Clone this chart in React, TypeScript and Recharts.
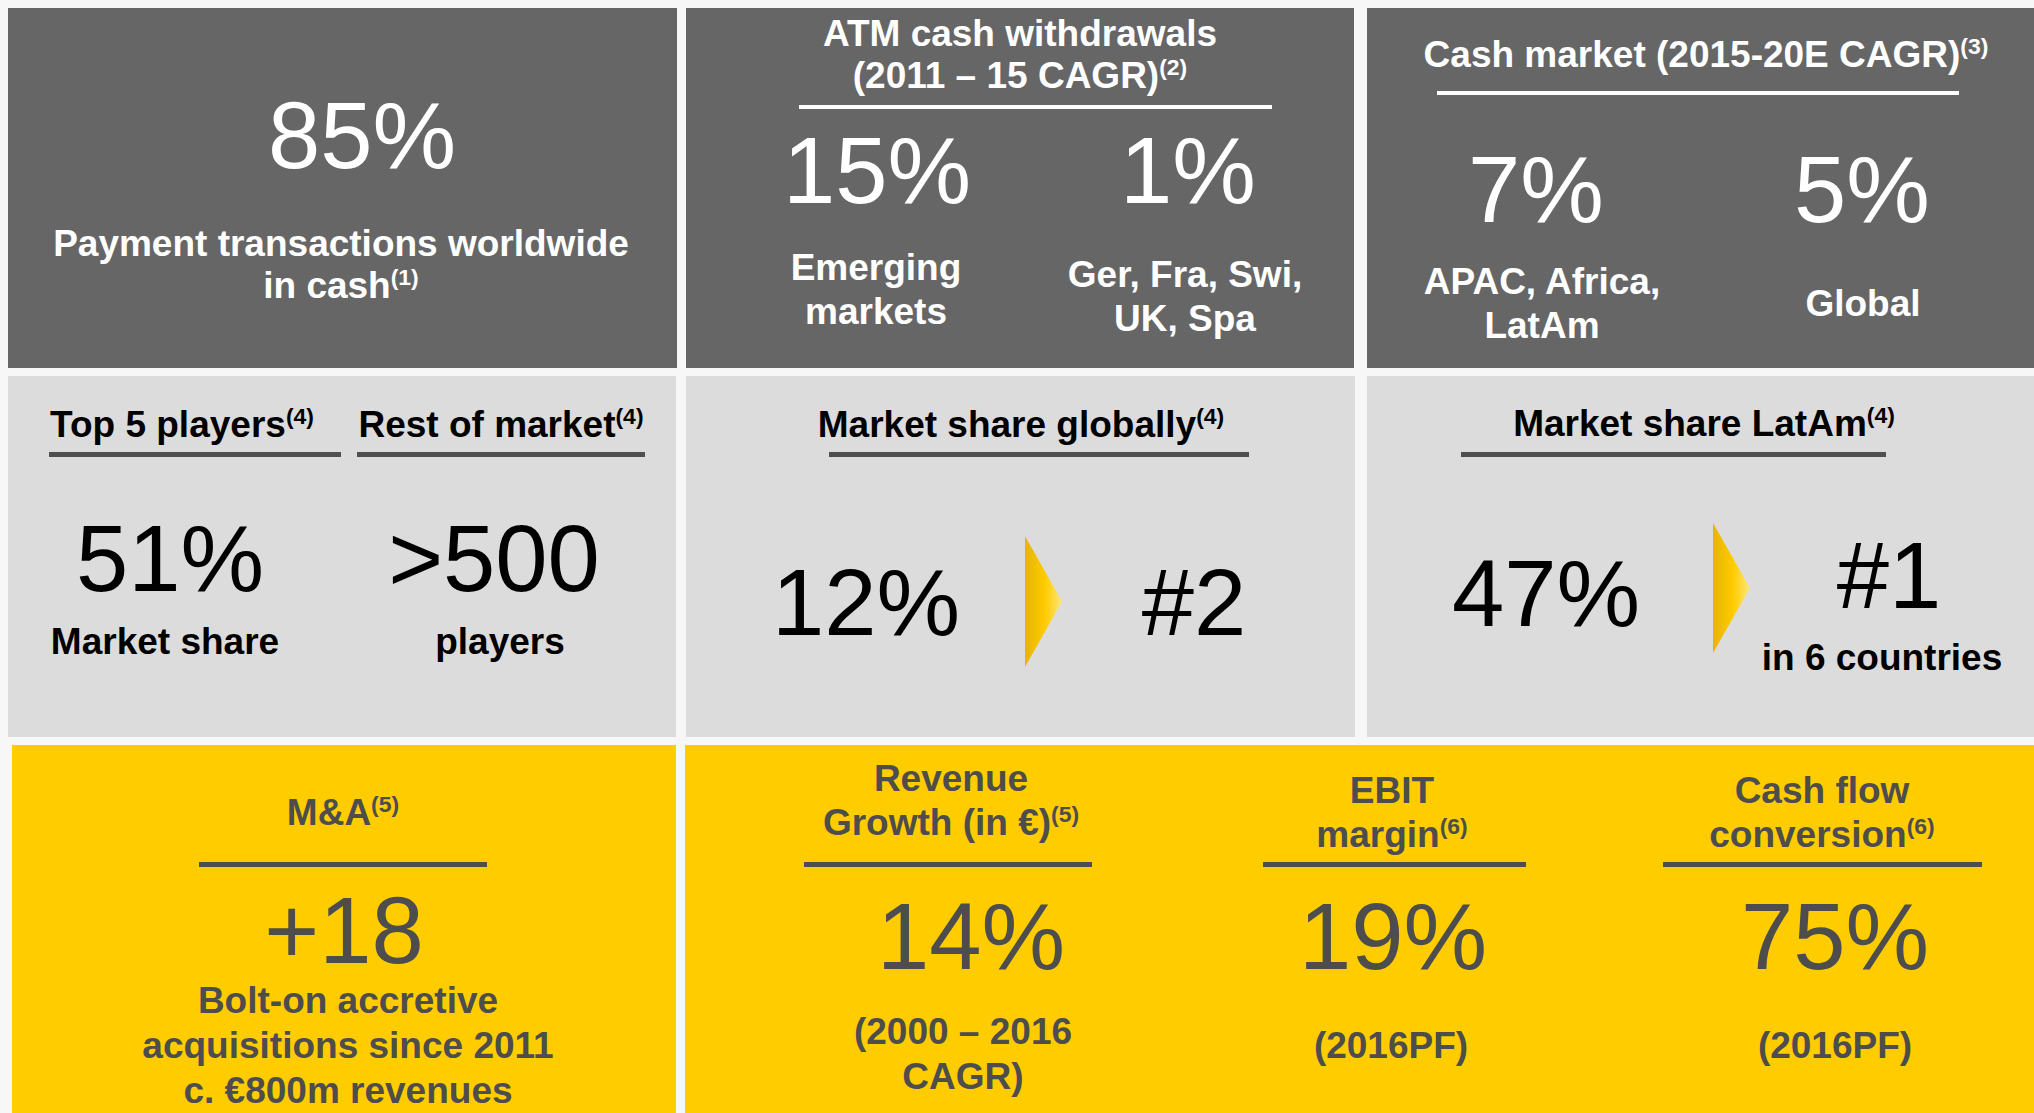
import React from "react";
import { Surface, Layer, Rectangle, Polygon } from "recharts";

type Line = { text: string; note?: string };

// Row 1: the cash market
const cashShareFigure = "85%";
const cashShareCaption: Line[] = [{ text: "Payment transactions worldwide" }, { text: "in cash", note: "(1)" }];
const atmTitle: Line[] = [{ text: "ATM cash withdrawals" }, { text: "(2011 – 15 CAGR)", note: "(2)" }];
const atmFigures = ["15%", "1%"];
const atmCaptions = [
  ["Emerging", "markets"],
  ["Ger, Fra, Swi,", "UK, Spa"],
];
const cashMarketTitle: Line = { text: "Cash market (2015-20E CAGR)", note: "(3)" };
const cashMarketFigures = ["7%", "5%"];
const cashMarketCaptions = [["APAC, Africa,", "LatAm"], ["Global"]];

// Row 2: market position
const playerTitles: Line[] = [
  { text: "Top 5 players", note: "(4)" },
  { text: "Rest of market", note: "(4)" },
];
const playerFigures = ["51%", ">500"];
const playerCaptions = ["Market share", "players"];
const globalTitle: Line = { text: "Market share globally", note: "(4)" };
const globalFigures = ["12%", "#2"];
const latamTitle: Line = { text: "Market share LatAm", note: "(4)" };
const latamFigures = ["47%", "#1"];
const latamCaption = "in 6 countries";

// Row 3: growth and profitability
const maTitle: Line = { text: "M&A", note: "(5)" };
const maFigure = "+18";
const maCaption = ["Bolt-on accretive", "acquisitions since 2011", "c. €800m revenues"];
const kpiTitles: Line[][] = [
  [{ text: "Revenue" }, { text: "Growth (in €)", note: "(5)" }],
  [{ text: "EBIT" }, { text: "margin", note: "(6)" }],
  [{ text: "Cash flow" }, { text: "conversion", note: "(6)" }],
];
const kpiFigures = ["14%", "19%", "75%"];
const kpiPeriods = [["(2000 – 2016", "CAGR)"], ["(2016PF)"], ["(2016PF)"]];

const W = 2034;
const H = 1113;
const FONT = "'Liberation Sans', Arial, Helvetica, sans-serif";
const DARK = "#666666";
const LIGHT = "#dcdcdc";
const YELLOW = "#ffcc00";
const INK = "#4d4d4d";
const BIG = 94;
const LABEL = 37;

function TextLine({
  x,
  y,
  line,
  size = LABEL,
  color,
  bold = true,
}: {
  x: number;
  y: number;
  line: Line | string;
  size?: number;
  color: string;
  bold?: boolean;
}) {
  const l = typeof line === "string" ? { text: line } : line;
  return (
    <text
      x={x}
      y={y}
      textAnchor="middle"
      fontFamily={FONT}
      fontSize={size}
      fontWeight={bold ? 700 : 400}
      fill={color}
    >
      {l.text}
      {l.note && (
        <tspan fontSize={size * 0.62} dy={-size * 0.34}>
          {l.note}
        </tspan>
      )}
    </text>
  );
}

function Figure({ x, y, value, color }: { x: number; y: number; value: string; color: string }) {
  return <TextLine x={x} y={y} line={value} size={BIG} color={color} bold={false} />;
}

function Chevron({ x, top, bottom, width }: { x: number; top: number; bottom: number; width: number }) {
  const mid = (top + bottom) / 2;
  return (
    <Polygon
      points={[
        { x, y: top },
        { x: x + width, y: mid },
        { x, y: bottom },
      ]}
      fill="url(#chevronGold)"
      stroke="none"
    />
  );
}

export default function App() {
  return (
    <div style={{ position: "absolute", left: 0, top: 0, width: W, height: H, background: "#f7f7f7" }}>
      <Surface width={W} height={H}>
        <defs>
          <linearGradient id="chevronGold" x1="0" y1="0" x2="1" y2="0">
            <stop offset="0%" stopColor="#e8b400" />
            <stop offset="55%" stopColor="#ffcc00" />
            <stop offset="100%" stopColor="#ffe680" />
          </linearGradient>
        </defs>
        <Rectangle x={0} y={0} width={W} height={H} fill="#f7f7f7" />

        {/* tiles */}
        <Layer>
          <Rectangle x={8} y={8} width={669} height={360} fill={DARK} />
          <Rectangle x={686} y={8} width={668} height={360} fill={DARK} />
          <Rectangle x={1367} y={8} width={667} height={360} fill={DARK} />
          <Rectangle x={8} y={376} width={668} height={361} fill={LIGHT} />
          <Rectangle x={686} y={376} width={669} height={361} fill={LIGHT} />
          <Rectangle x={1367} y={376} width={667} height={361} fill={LIGHT} />
          <Rectangle x={12} y={745} width={664} height={368} fill={YELLOW} />
          <Rectangle x={685} y={745} width={1349} height={368} fill={YELLOW} />
        </Layer>

        {/* row 1 */}
        <Layer>
          <Figure x={362} y={168} value={cashShareFigure} color="#fff" />
          <TextLine x={341} y={256} line={cashShareCaption[0]} color="#fff" />
          <TextLine x={341} y={298} line={cashShareCaption[1]} color="#fff" />

          <TextLine x={1020} y={46} line={atmTitle[0]} color="#fff" />
          <TextLine x={1020} y={88} line={atmTitle[1]} color="#fff" />
          <Rectangle x={799} y={105} width={473} height={4} fill="#fff" />
          {atmFigures.map((v, i) => (
            <Figure key={v} x={[877, 1188][i]} y={203} value={v} color="#fff" />
          ))}
          {atmCaptions.map((lines, i) =>
            lines.map((t, j) => (
              <TextLine key={t} x={[876, 1185][i]} y={[280, 287][i] + j * 44} line={t} color="#fff" />
            )),
          )}

          <TextLine x={1706} y={67} line={cashMarketTitle} color="#fff" />
          <Rectangle x={1437} y={91} width={522} height={4} fill="#fff" />
          {cashMarketFigures.map((v, i) => (
            <Figure key={v} x={[1536, 1862][i]} y={222} value={v} color="#fff" />
          ))}
          {cashMarketCaptions.map((lines, i) =>
            lines.map((t, j) => (
              <TextLine key={t} x={[1542, 1863][i]} y={[294, 316][i] + j * 44} line={t} color="#fff" />
            )),
          )}
        </Layer>

        {/* row 2 */}
        <Layer>
          {playerTitles.map((t, i) => (
            <TextLine key={t.text} x={[182, 501][i]} y={437} line={t} color="#000" />
          ))}
          <Rectangle x={49} y={452} width={292} height={5} fill="#505050" />
          <Rectangle x={357} y={452} width={288} height={5} fill="#505050" />
          {playerFigures.map((v, i) => (
            <Figure key={v} x={[170, 494][i]} y={591} value={v} color="#000" />
          ))}
          {playerCaptions.map((t, i) => (
            <TextLine key={t} x={[165, 500][i]} y={654} line={t} color="#000" />
          ))}

          <TextLine x={1021} y={437} line={globalTitle} color="#000" />
          <Rectangle x={829} y={452} width={420} height={5} fill="#505050" />
          <Figure x={866} y={635} value={globalFigures[0]} color="#000" />
          <Chevron x={1025} top={536} bottom={667} width={37} />
          <Figure x={1194} y={635} value={globalFigures[1]} color="#000" />

          <TextLine x={1704} y={436} line={latamTitle} color="#000" />
          <Rectangle x={1461} y={452} width={425} height={5} fill="#505050" />
          <Figure x={1546} y={626} value={latamFigures[0]} color="#000" />
          <Chevron x={1713} top={523} bottom={653} width={37} />
          <Figure x={1889} y={608} value={latamFigures[1]} color="#000" />
          <TextLine x={1882} y={670} line={latamCaption} color="#000" />
        </Layer>

        {/* row 3 */}
        <Layer>
          <TextLine x={343} y={825} line={maTitle} color={INK} />
          <Rectangle x={199} y={862} width={288} height={5} fill={INK} />
          <Figure x={344} y={963} value={maFigure} color={INK} />
          {maCaption.map((t, j) => (
            <TextLine key={t} x={348} y={1013 + j * 45} line={t} color={INK} />
          ))}

          {kpiTitles.map((lines, i) =>
            lines.map((t, j) => (
              <TextLine
                key={t.text}
                x={[951, 1392, 1822][i]}
                y={[791, 803, 803][i] + j * 44}
                line={t}
                color={INK}
              />
            )),
          )}
          <Rectangle x={804} y={862} width={288} height={5} fill={INK} />
          <Rectangle x={1263} y={862} width={263} height={5} fill={INK} />
          <Rectangle x={1663} y={862} width={319} height={5} fill={INK} />
          {kpiFigures.map((v, i) => (
            <Figure key={v} x={[971, 1393, 1835][i]} y={969} value={v} color={INK} />
          ))}
          {kpiPeriods.map((lines, i) =>
            lines.map((t, j) => (
              <TextLine
                key={i + t}
                x={[963, 1391, 1835][i]}
                y={[1044, 1058, 1058][i] + j * 45}
                line={t}
                color={INK}
              />
            )),
          )}
        </Layer>
      </Surface>
    </div>
  );
}
